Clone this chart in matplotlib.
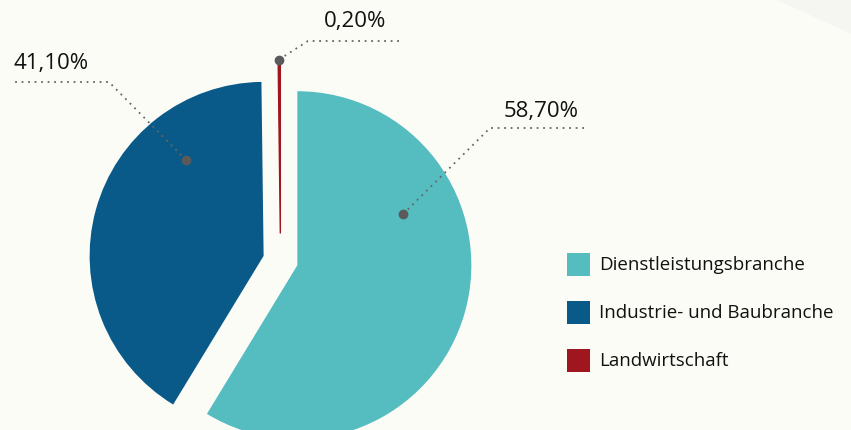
import numpy as np
import matplotlib.pyplot as plt
from matplotlib.patches import Rectangle, Polygon

plt.rcParams['font.family'] = ['Open Sans', 'DejaVu Sans']

## data
categories = ['Dienstleistungsbranche', 'Industrie- und Baubranche', 'Landwirtschaft']
values = [58.7, 41.1, 0.2]
labels = ['58,70%', '41,10%', '0,20%']
colors = ['#55bcbf', '#0a5a89', '#a0161f']

bg = '#fcfcf7'
W, H = 851, 430

fig = plt.figure(figsize=(W / 100, H / 100), dpi=100, facecolor=bg)
ax = fig.add_axes([0, 0, 1, 1])
ax.set_facecolor(bg)

# faint band in top-right corner
ax.add_patch(Polygon([(777, H), (W, H), (W, H - 34)], closed=True,
                     facecolor='#f5f5f2', edgecolor='none', zorder=0))

R = 174
# explode is in data units here (pixels)
wedges, _ = ax.pie(values, colors=colors, startangle=90, counterclock=False,
                   explode=[17.5, 17.5, 27], radius=R, center=(280.5, H - 260.5),
                   wedgeprops=dict(linewidth=0))
# thin slice: give it a visible edge
wedges[2].set_edgecolor(colors[2])
wedges[2].set_linewidth(1.0)
ax.set_xlim(0, W)
ax.set_ylim(0, H)
ax.set_aspect('auto')
ax.axis('off')

## label leaders: dot inside wedge (radius fraction, angle), elbow, end, text pos
dot_pos = [(0.675, 25.8), (0.71, 129), (1.0, 90.4)]
elbows = [(490, 128), (109, 82), (308, 41)]
ends = [(585, 128), (13, 82), (399, 41)]
text_pos = [(541, 111), (51, 63), (355, 21)]

for w, (rf, ang), el, en, tp, lab in zip(wedges, dot_pos, elbows, ends, text_pos, labels):
    cx, cy = w.center
    dx = cx + rf * R * np.cos(np.radians(ang))
    dy = cy + rf * R * np.sin(np.radians(ang))
    ax.plot([dx, el[0], en[0]], [dy, H - el[1], H - en[1]], color='#666666',
            lw=1.3, linestyle=(0, (1, 2.6)), zorder=3)
    ax.plot(dx, dy, 'o', color='#5a5a5a', markersize=6, zorder=4)
    ax.text(tp[0], H - tp[1], lab, fontsize=16, color='#111111',
            ha='center', va='center')

## legend
for i, (cat, c) in enumerate(zip(categories, colors)):
    top = 253 + i * 48
    ax.add_patch(Rectangle((567, H - top - 23), 23, 23, facecolor=c, edgecolor='none'))
    ax.text(599, H - top - 12, cat, fontsize=13.5, color='#111111', va='center', ha='left')

fig.savefig('out.png', dpi=100, facecolor=bg)
